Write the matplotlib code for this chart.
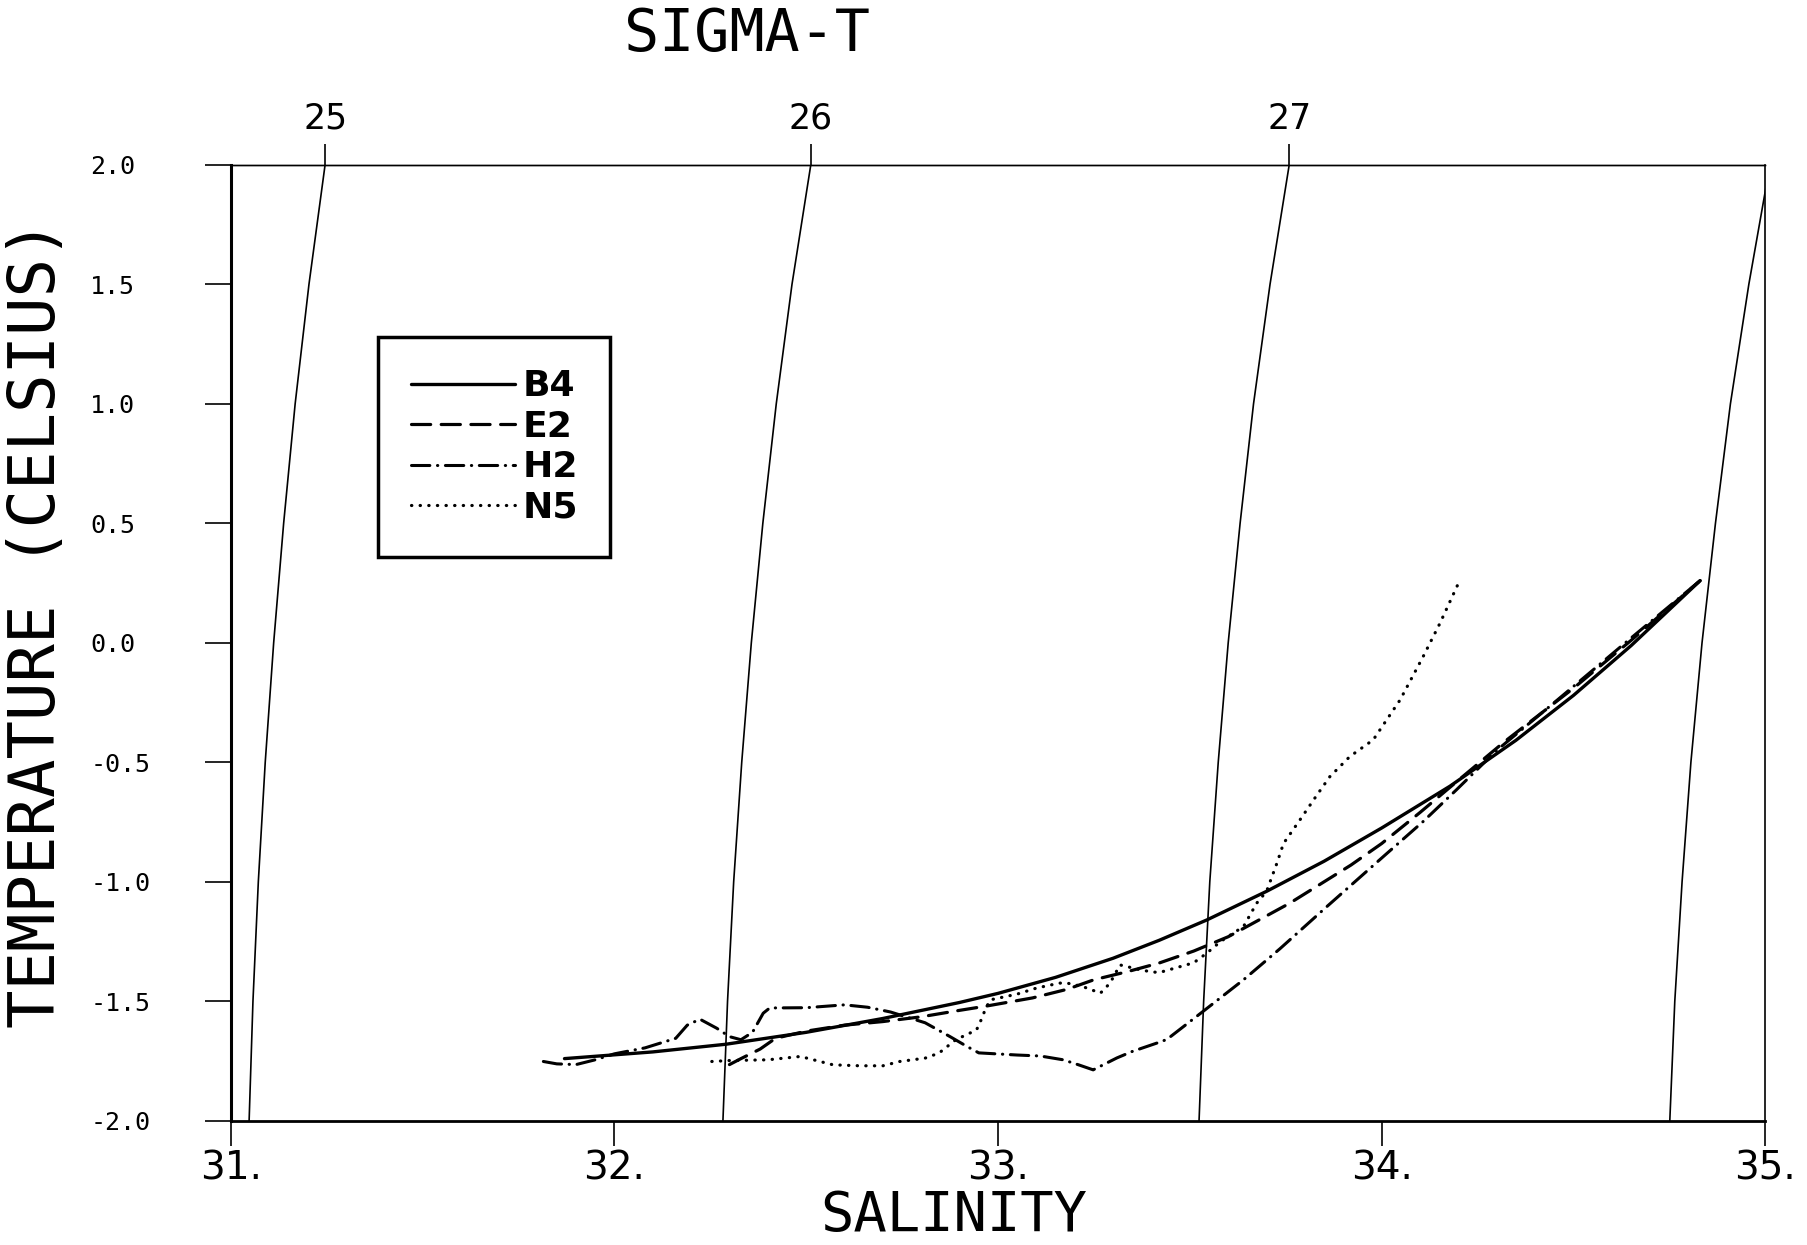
import matplotlib
matplotlib.use("Agg")
import matplotlib.pyplot as plt
from matplotlib import font_manager

# T-S curves: salinity and temperature (Celsius)
b4_sal = [31.87, 32.10, 32.29, 32.50, 32.70, 32.90, 33.00, 33.15, 33.30, 33.42, 33.544,
          33.70, 33.85, 34.00, 34.178, 34.35, 34.50, 34.65, 34.83]
b4_temp = [-1.74, -1.712, -1.68, -1.63, -1.572, -1.505, -1.467, -1.40, -1.32, -1.245, -1.16,
           -1.04, -0.914, -0.775, -0.60, -0.408, -0.22, -0.012, 0.26]

e2_sal = [32.30, 32.33, 32.38, 32.42, 32.50, 32.60, 32.70, 32.80, 32.90, 32.97, 33.09,
          33.18, 33.25, 33.34, 33.42, 33.51, 33.60, 33.68, 33.76, 33.83, 33.92, 34.00,
          34.10, 34.20, 34.32, 34.50, 34.65, 34.83]
e2_temp = [-1.765, -1.74, -1.70, -1.655, -1.625, -1.60, -1.585, -1.565, -1.538, -1.52, -1.486,
           -1.45, -1.41, -1.375, -1.34, -1.29, -1.23, -1.16, -1.09, -1.02, -0.93, -0.84,
           -0.71, -0.575, -0.414, -0.19, 0.01, 0.26]

h2_sal = [31.815, 31.85, 31.90, 31.95, 32.00, 32.08, 32.16, 32.19, 32.223, 32.267, 32.30,
          32.33, 32.36, 32.388, 32.405, 32.50, 32.60, 32.66, 32.72, 32.77, 32.81, 32.875,
          32.92, 32.95, 33.05, 33.11, 33.17, 33.21, 33.248, 33.31, 33.35, 33.414, 33.44,
          33.534, 33.64, 33.735, 33.857, 34.004, 34.108, 34.195, 34.30, 34.45, 34.65, 34.83]
h2_temp = [-1.752, -1.762, -1.765, -1.745, -1.72, -1.695, -1.655, -1.60, -1.575, -1.613, -1.648,
           -1.661, -1.63, -1.55, -1.528, -1.527, -1.515, -1.525, -1.545, -1.57, -1.59, -1.648,
           -1.69, -1.716, -1.725, -1.729, -1.745, -1.766, -1.787, -1.737, -1.71, -1.675, -1.66,
           -1.543, -1.41, -1.28, -1.104, -0.895, -0.748, -0.615, -0.45, -0.25, 0.02, 0.26]

n5_sal = [32.254, 32.30, 32.40, 32.485, 32.57, 32.64, 32.70, 32.744, 32.81, 32.846, 32.89,
          32.944, 32.96, 32.966, 32.98, 33.05, 33.10, 33.16, 33.18, 33.22, 33.267, 33.292,
          33.318, 33.37, 33.396, 33.42, 33.51, 33.544, 33.58, 33.64, 33.674, 33.70, 33.727,
          33.744, 33.787, 33.83, 33.865, 33.917, 33.978, 34.048, 34.108, 34.152, 34.20]
n5_temp = [-1.752, -1.748, -1.745, -1.731, -1.766, -1.77, -1.77, -1.752, -1.738, -1.717, -1.661,
           -1.62, -1.564, -1.536, -1.494, -1.47, -1.445, -1.424, -1.424, -1.438, -1.466, -1.424,
           -1.348, -1.368, -1.376, -1.38, -1.339, -1.299, -1.25, -1.187, -1.09, -1.04, -0.922,
           -0.84, -0.741, -0.64, -0.56, -0.476, -0.406, -0.239, -0.058, 0.082, 0.249]

# sigma-t isopycnals: salinity at each temperature level
iso_temp = [-2.0, -1.5, -1.0, -0.5, 0.0, 0.5, 1.0, 1.5, 2.0]
sigma_25 = [31.048, 31.058, 31.072, 31.090, 31.112, 31.138, 31.168, 31.204, 31.246]
sigma_26 = [32.283, 32.295, 32.311, 32.332, 32.357, 32.387, 32.422, 32.463, 32.512]
sigma_27 = [33.524, 33.536, 33.552, 33.574, 33.600, 33.631, 33.666, 33.709, 33.759]
sigma_28 = [34.751, 34.764, 34.783, 34.806, 34.835, 34.870, 34.909, 34.957, 35.012]
sigma_labels = ["25", "26", "27"]

x_ticks = [31, 32, 33, 34, 35]
x_tick_labels = ["31.", "32.", "33.", "34.", "35."]
y_ticks = [2.0, 1.5, 1.0, 0.5, 0.0, -0.5, -1.0, -1.5, -2.0]
y_tick_labels = ["2.0", "1.5", "1.0", "0.5", "0.0", "-0.5", "-1.0", "-1.5", "-2.0"]

plt.rcParams["axes.unicode_minus"] = False

available = {f.name for f in font_manager.fontManager.ttflist}
narrow = "Liberation Sans Narrow" if "Liberation Sans Narrow" in available else "DejaVu Sans"
mono = "DejaVu Sans Mono"

fig = plt.figure(figsize=(18.08, 12.45), dpi=100)
ax = fig.add_axes([0.1276, 0.0998, 0.8488, 0.7678])

# isopycnals
for sal in (sigma_25, sigma_26, sigma_27, sigma_28):
    ax.plot(sal, iso_temp, color="black", linewidth=1.2)

# station curves
ax.plot(b4_sal, b4_temp, color="black", linewidth=2.4, solid_capstyle="round", label="B4")
ax.plot(e2_sal, e2_temp, color="black", linewidth=2.3, linestyle=(0, (6, 3.3)),
        dash_capstyle="round", label="E2")
ax.plot(h2_sal, h2_temp, color="black", linewidth=2.2, linestyle=(0, (6, 2.5, 0.1, 2.5)),
        dash_capstyle="round", label="H2")
ax.plot(n5_sal, n5_temp, color="black", linewidth=2.3, linestyle=(0, (0.1, 2.6)),
        dash_capstyle="round", label="N5")

ax.set_xlim(31, 35)
ax.set_ylim(-2, 2)

ax.set_xticks(x_ticks)
ax.set_xticklabels(x_tick_labels, fontfamily=narrow, fontsize=28)
ax.tick_params(axis="x", direction="out", length=18, width=1.2, pad=3, top=False)

ax.set_yticks(y_ticks)
ax.set_yticklabels(y_tick_labels, fontfamily=mono, fontsize=18, ha="left")
ax.tick_params(axis="y", direction="out", length=19, width=1.2, pad=82, right=False)

ax.spines["left"].set_linewidth(2.2)
ax.spines["bottom"].set_linewidth(2.0)
ax.spines["top"].set_linewidth(1.0)
ax.spines["right"].set_linewidth(1.2)

# sigma-t labels along the top where each isopycnal meets the top edge
sec = ax.secondary_xaxis("top")
sec.set_xticks([s[-1] for s in (sigma_25, sigma_26, sigma_27)])
sec.set_xticklabels(sigma_labels, fontfamily=narrow, fontsize=25)
sec.tick_params(direction="out", length=15, width=1.2, pad=6)
sec.spines["top"].set_linewidth(1.0)

ax.set_xlabel("SALINITY", fontfamily=mono, fontsize=40)
ax.xaxis.set_label_coords(0.4714, -0.071)
ax.set_ylabel("TEMPERATURE (CELSIUS)", fontfamily=mono, fontsize=46)
ax.yaxis.set_label_coords(-0.106, 0.52)
fig.text(0.413, 0.972, "SIGMA-T", ha="center", va="center", fontfamily=mono, fontsize=42)

leg = ax.legend(loc="upper left", bbox_to_anchor=(0.096, 0.82), borderaxespad=0,
                frameon=True, fancybox=False, edgecolor="black", framealpha=1,
                prop={"family": "DejaVu Sans", "weight": "bold", "size": 26},
                handlelength=2.9, handletextpad=0.2, labelspacing=0.18, borderpad=0.9)
leg.get_frame().set_linewidth(2.5)

fig.savefig("out.png", dpi=100)
